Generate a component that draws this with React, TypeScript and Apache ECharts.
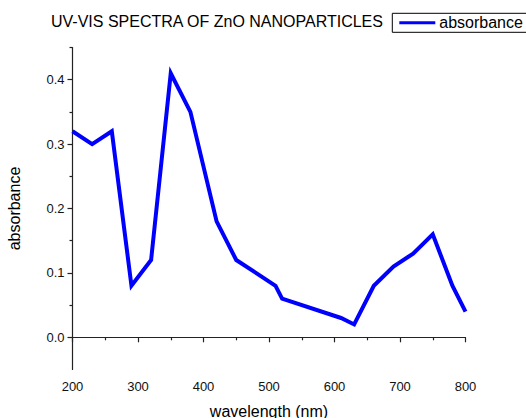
import React, { useEffect, useRef } from "react";
import * as echarts from "echarts";

const wavelength = [200, 230, 260, 290, 320, 350, 380, 420, 450, 510, 520, 610, 630, 660, 690, 720, 750, 780, 800];
const absorbance = [0.32, 0.30, 0.32, 0.08, 0.12, 0.41, 0.35, 0.18, 0.12, 0.08, 0.06, 0.03, 0.02, 0.08, 0.11, 0.13, 0.16, 0.08, 0.04];
const yMajorTicks = [0, 0.1, 0.2, 0.3, 0.4];
const yMinorTicks = [0.05, 0.15, 0.25, 0.35, 0.45];

const FONT = "Liberation Sans, Arial, sans-serif";

export default function App() {
  const ref = useRef<HTMLDivElement>(null);
  useEffect(() => {
    const chart = echarts.init(ref.current!, null, { renderer: "svg" });
    const data = wavelength.map((w, i) => [w, absorbance[i]]);
    chart.setOption({
      animation: false,
      backgroundColor: "#fff",
      title: {
        text: "UV-VIS SPECTRA OF ZnO NANOPARTICLES",
        left: 46,
        top: 8,
        textStyle: { fontFamily: FONT, fontSize: 16, fontWeight: "normal", color: "#000" },
      },
      legend: {
        left: 392.3,
        top: 13.3,
        padding: [1.5, 4, 1.5, 7],
        borderColor: "#000",
        borderWidth: 1,
        itemWidth: 36,
        itemHeight: 3,
        itemGap: 5,
        icon: "rect",
        textStyle: { fontFamily: FONT, fontSize: 16, color: "#000", padding: [0, 0, 0, -1] },
        data: ["absorbance"],
      },
      grid: {
        left: 72.5,
        right: 60.5,
        top: 47.5,
        bottom: 48.5,
        containLabel: false,
        outerBoundsMode: "none",
      },
      xAxis: {
        type: "value",
        min: 200,
        max: 800,
        interval: 100,
        name: "wavelength (nm)",
        nameLocation: "middle",
        nameGap: 34,
        nameTextStyle: { fontFamily: FONT, fontSize: 16, color: "#000" },
        axisLine: { show: true, lineStyle: { color: "#222", width: 1.2 } },
        axisTick: { show: true, length: 5, lineStyle: { color: "#222", width: 1.2 } },
        minorTick: { show: true, splitNumber: 2, length: 3, lineStyle: { color: "#222", width: 1.2 } },
        axisLabel: { fontFamily: FONT, fontSize: 13, color: "#111", margin: 10 },
        splitLine: { show: false },
      },
      yAxis: [
        {
          type: "value",
          min: -0.05,
          max: 0.45,
          name: "absorbance",
          nameLocation: "middle",
          nameGap: 50,
          nameTextStyle: { fontFamily: FONT, fontSize: 16, color: "#000" },
          axisLine: { show: true, onZero: false, lineStyle: { color: "#222", width: 1.2 } },
          axisTick: { show: true, length: 5, customValues: yMajorTicks, lineStyle: { color: "#222", width: 1.2 } },
          axisLabel: {
            customValues: yMajorTicks,
            fontFamily: FONT,
            fontSize: 13,
            color: "#111",
            margin: 8,
            formatter: (v: number) => v.toFixed(1),
          },
          splitLine: { show: false },
        },
        {
          type: "value",
          min: -0.05,
          max: 0.45,
          position: "left",
          axisLine: { show: false },
          axisTick: { show: true, length: 3, customValues: yMinorTicks, lineStyle: { color: "#222", width: 1.2 } },
          axisLabel: { show: false },
          splitLine: { show: false },
        },
      ],
      series: [
        {
          name: "absorbance",
          type: "line",
          data,
          yAxisIndex: 0,
          symbol: "none",
          lineStyle: { color: "#0000ff", width: 4, join: "miter" },
          itemStyle: { color: "#0000ff" },
        },
      ],
    });
    return () => chart.dispose();
  }, []);
  return (
    <div
      ref={ref}
      style={{ position: "fixed", left: 0, top: 0, width: 526, height: 418 }}
    />
  );
}
